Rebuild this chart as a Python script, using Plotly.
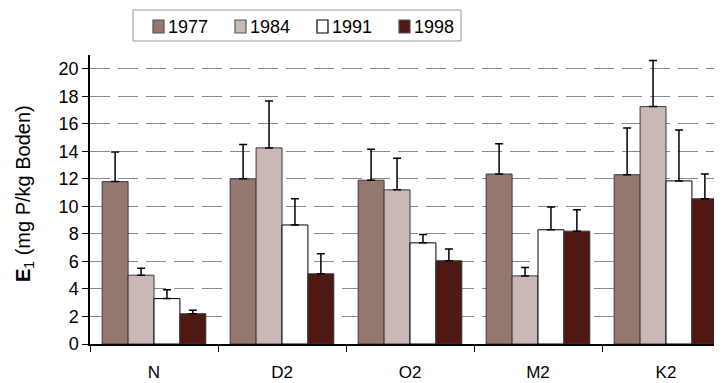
import plotly.graph_objects as go

categories = ["N", "D2", "O2", "M2", "K2"]
years = ["1977", "1984", "1991", "1998"]
values_1977 = [11.8, 12.0, 11.9, 12.35, 12.3]
values_1984 = [5.0, 14.25, 11.2, 4.95, 17.25]
values_1991 = [3.3, 8.65, 7.35, 8.3, 11.85]
values_1998 = [2.2, 5.1, 6.05, 8.2, 10.55]
err_1977 = [2.15, 2.5, 2.25, 2.2, 3.4]
err_1984 = [0.5, 3.4, 2.3, 0.6, 3.35]
err_1991 = [0.65, 1.9, 0.6, 1.65, 3.7]
err_1998 = [0.25, 1.45, 0.85, 1.55, 1.8]
y_ticks = [0, 2, 4, 6, 8, 10, 12, 14, 16, 18, 20]

colors = ["#94776F", "#CAB8B4", "#FFFFFF", "#4F1812"]
series = [values_1977, values_1984, values_1991, values_1998]
errs = [err_1977, err_1984, err_1991, err_1998]

# page layout (screen pixels; the page has an 8px body margin)
PLOT_L, PLOT_W, PLOT_BOTTOM, PLOT_H = 90, 640, 344, 289
def px(xp):
    return (xp - PLOT_L) / PLOT_W
def py(yp):
    return (PLOT_BOTTOM - yp) / PLOT_H

fig = go.Figure()
for yr, vals, er, col in zip(years, series, errs, colors):
    fig.add_trace(go.Bar(
        x=categories, y=vals, name=yr,
        marker=dict(color=col, line=dict(color="#3a3a3a" if col != "#FFFFFF" else "#000000", width=1)),
        error_y=dict(type="data", symmetric=False, array=er,
                     arrayminus=[0] * len(er), color="#000000",
                     thickness=1.5, width=4),
    ))

shapes = []
annotations = []
# legend box
shapes.append(dict(type="rect", xref="paper", yref="paper",
                   x0=px(133), x1=px(461), y0=py(41), y1=py(10),
                   line=dict(color="#999999", width=1), fillcolor="white"))
for i, (yr, col) in enumerate(zip(years, colors)):
    sx = 153 + 82 * i
    shapes.append(dict(type="rect", xref="paper", yref="paper",
                       x0=px(sx), x1=px(sx + 11), y0=py(33), y1=py(20),
                       line=dict(color="#000000" if col == "#FFFFFF" else "#555555", width=1.2),
                       fillcolor=col))
    annotations.append(dict(text=yr, xref="paper", yref="paper",
                            x=px(sx + 13), y=py(27), xanchor="left", yanchor="middle",
                            showarrow=False, font=dict(size=18)))
annotations.append(dict(text="<b>E</b><sub>1</sub> (mg P/kg Boden)", xref="paper", yref="paper",
                        x=px(24), y=py(194), textangle=-90, xanchor="center", yanchor="middle",
                        showarrow=False, font=dict(size=20)))

fig.update_layout(
    width=722, height=383,
    margin=dict(l=82, r=0, t=47, b=47, autoexpand=False),
    paper_bgcolor="white", plot_bgcolor="white",
    barmode="group", bargap=0.19, bargroupgap=0,
    font=dict(family="Liberation Sans, Arial, sans-serif", color="#000000", size=17),
    showlegend=False,
    shapes=shapes, annotations=annotations,
    xaxis=dict(range=[-0.5, 4.5], showline=True, linecolor="#000000",
               linewidth=1.5, ticks="outside", tickson="boundaries",
               ticklen=6, tickcolor="#000000", tickfont=dict(size=17),
               ticklabelstandoff=12),
    yaxis=dict(range=[0, 21], tickvals=y_ticks, showline=True,
               linecolor="#000000", linewidth=1.5, ticks="outside",
               ticklen=6, tickcolor="#000000", tickfont=dict(size=18),
               showgrid=True, gridcolor="#8a8a8a", griddash="20px,8px",
               gridwidth=1, zeroline=False),
)

fig.write_html("out.html")
